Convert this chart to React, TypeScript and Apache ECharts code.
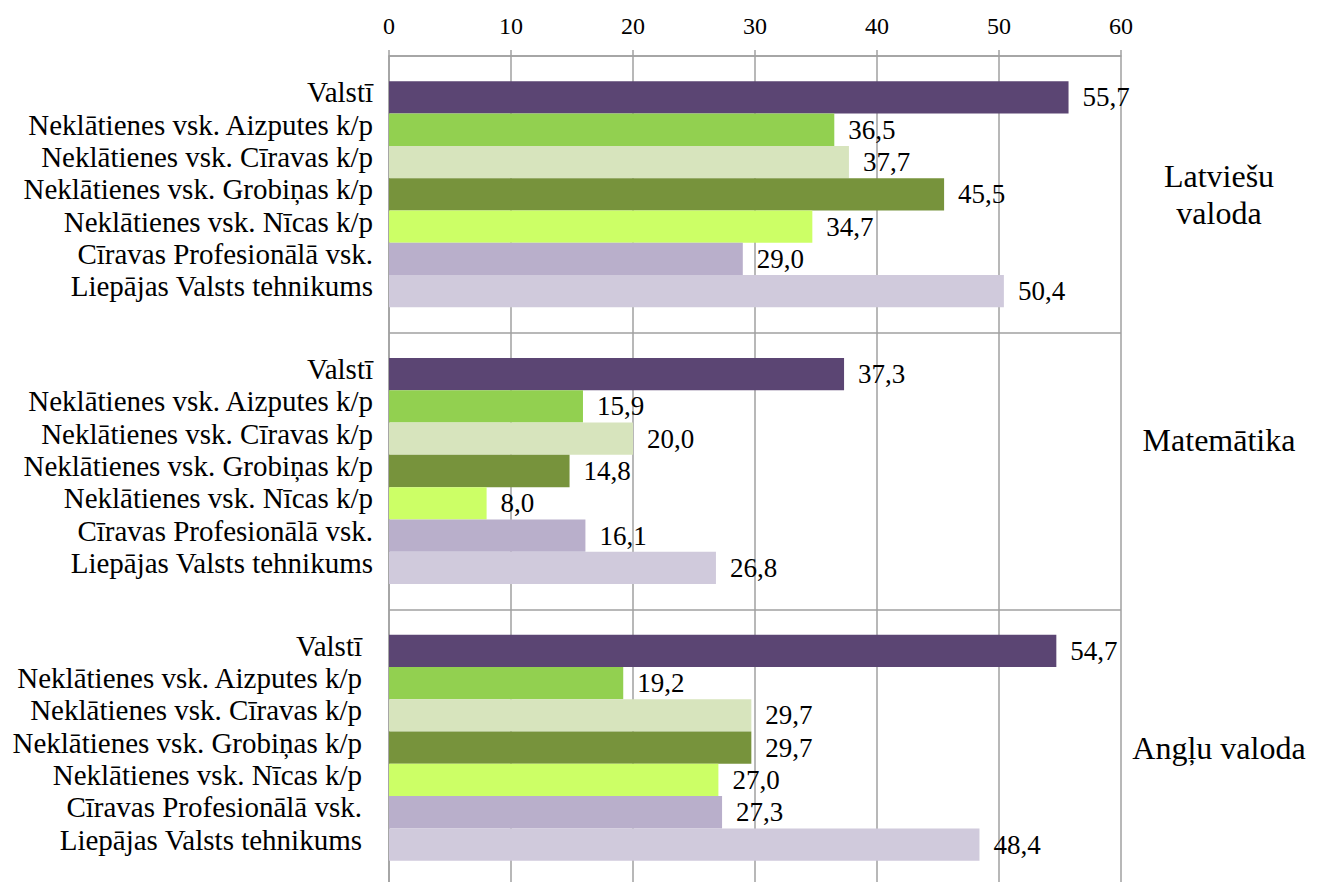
import React, { useEffect, useRef } from "react";
import * as echarts from "echarts";

const categories = ["Latviešu valoda", "Matemātika", "Angļu valoda"];
const schools = [
  "Valstī",
  "Neklātienes vsk. Aizputes k/p",
  "Neklātienes vsk. Cīravas k/p",
  "Neklātienes vsk. Grobiņas k/p",
  "Neklātienes vsk. Nīcas k/p",
  "Cīravas Profesionālā vsk.",
  "Liepājas Valsts tehnikums",
];
const latviesuValoda = [55.7, 36.5, 37.7, 45.5, 34.7, 29.0, 50.4];
const matematika = [37.3, 15.9, 20.0, 14.8, 8.0, 16.1, 26.8];
const angluValoda = [54.7, 19.2, 29.7, 29.7, 27.0, 27.3, 48.4];
const colors = ["#5b4573", "#92d050", "#d7e4bd", "#77933c", "#ccff66", "#b9afcb", "#d0cadc"];

const FONT = '"Liberation Serif", "Times New Roman", Times, serif';
const GRID_COLOR = "#a0a0a0";

export default function App() {
  const ref = useRef<HTMLDivElement>(null);
  useEffect(() => {
    document.body.style.margin = "0";
    if (!ref.current) return;
    const chart = echarts.init(ref.current, undefined, { renderer: "svg" });
    const series: any[] = [];
    schools.forEach((name, i) => {
      series.push({
        type: "bar",
        name: name + " (nosaukums)",
        stack: "g" + i,
        barGap: "0%",
        barCategoryGap: "18.3%",
        silent: true,
        itemStyle: { color: "transparent" },
        data: categories.map((_, ci) => ({
          value: 0,
          label: { distance: ci === 2 ? 27 : 16 },
        })),
        label: {
          show: true,
          position: "left",
          formatter: () => name,
          fontSize: 29,
          fontFamily: FONT,
          color: "#000",
          offset: [0, -5],
        },
      });
      series.push({
        type: "bar",
        name,
        stack: "g" + i,
        barGap: "0%",
        barCategoryGap: "18.3%",
        itemStyle: { color: colors[i] },
        data: [latviesuValoda[i], matematika[i], angluValoda[i]],
        label: {
          show: true,
          position: "right",
          distance: 14,
          formatter: (p: any) => Number(p.value).toFixed(1).replace(".", ","),
          fontSize: 27,
          fontFamily: FONT,
          color: "#000",
        },
      });
    });
    chart.setOption({
      animation: false,
      textStyle: { fontFamily: FONT },
      grid: { left: 389, top: 56, width: 732, height: 830, outerBoundsMode: "none", containLabel: false },
      xAxis: {
        type: "value",
        position: "top",
        min: 0,
        max: 60,
        interval: 10,
        axisLine: { show: true, lineStyle: { color: GRID_COLOR, width: 1.5 } },
        axisTick: { show: true, length: 6, lineStyle: { color: GRID_COLOR, width: 1.5 } },
        axisLabel: { fontSize: 24, fontFamily: FONT, color: "#000", margin: 18 },
        splitLine: { show: true, lineStyle: { color: GRID_COLOR, width: 1.5 } },
      },
      yAxis: [
        {
          type: "category",
          data: categories,
          inverse: true,
          axisLine: { show: true, lineStyle: { color: GRID_COLOR, width: 1.5 } },
          axisTick: { show: false },
          axisLabel: { show: false },
          splitLine: { show: true, lineStyle: { color: GRID_COLOR, width: 1.5 } },
        },
        {
          type: "category",
          position: "right",
          inverse: true,
          data: categories,
          axisLine: { show: false },
          axisTick: { show: false },
          splitLine: { show: false },
          axisLabel: {
            align: "center",
            margin: 98,
            fontSize: 32,
            lineHeight: 37,
            fontFamily: FONT,
            color: "#000",
            formatter: (v: string) =>
              v === categories[0] ? v.replace(" ", "\n") : v === categories[1] ? "{up|" + v + "}" : v,
            rich: {
              up: {
                fontSize: 32,
                fontFamily: FONT,
                color: "#000",
                padding: [0, 0, 62, 0],
              },
            },
          },
        },
      ],
      series,
    });
    return () => chart.dispose();
  }, []);
  return <div ref={ref} style={{ width: 1319, height: 882 }} />;
}
